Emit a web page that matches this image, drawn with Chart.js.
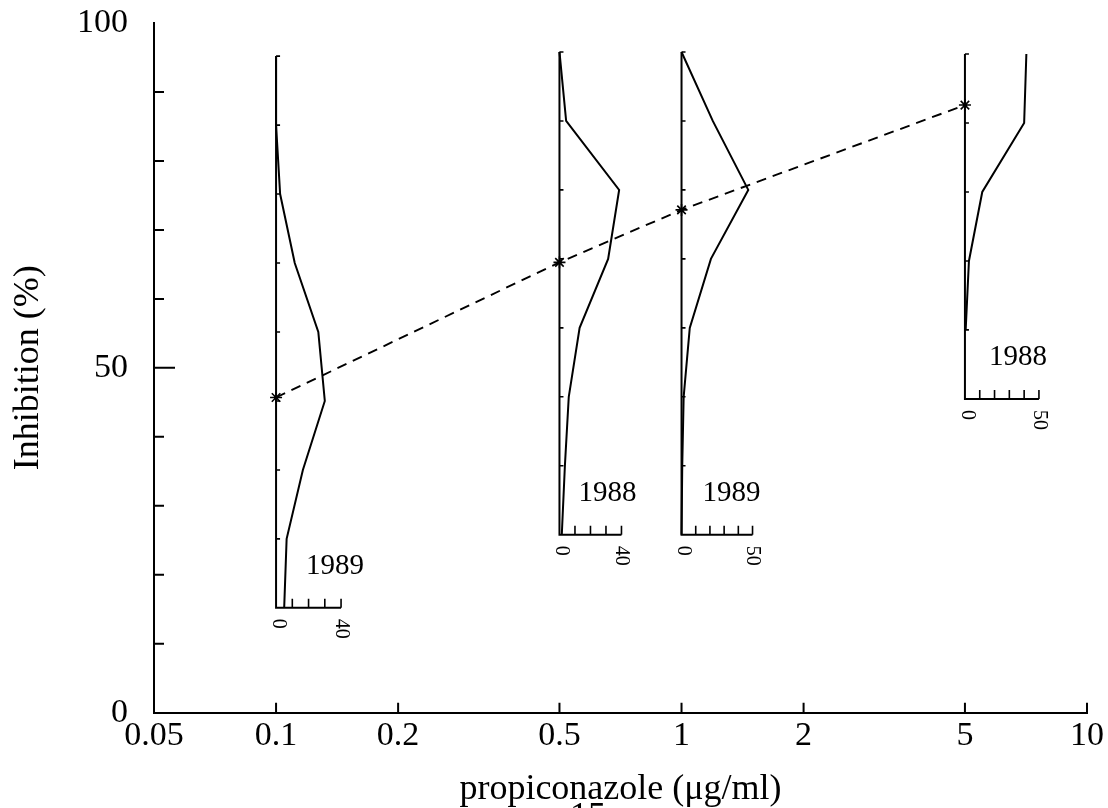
<!DOCTYPE html>
<html>
<head>
<meta charset="utf-8">
<script src="https://cdn.jsdelivr.net/npm/chart.js@4.4.1/dist/chart.umd.min.js"></script>
<style>
    html, body { margin: 0; padding: 0; background: #fff; }
</style>
</head>
<body>
<canvas id="myChart" width="1108" height="808"></canvas>
<script>
// nong do propiconazole (ug/ml) va muc uc che trung binh (%)
const doses = [0.1, 0.5, 1, 5];
const meanInhibition = [45.7, 65.3, 72.9, 88.1];
const years = ['1989', '1988', '1989', '1988'];

// phan bo tan so theo lop uc che (diem giua lop, %)
const classMids = [95, 85, 75, 65, 55, 45, 35, 25, 15];
const freqDose01 = [0, 0, 2.5, 11.5, 26, 30, 16.5, 6.5, 5];
const freqDose05 = [0, 4.3, 38.5, 31.4, 13, 6, 3.5, 1.5, null];
const freqDose1 = [0, 22, 47, 20.7, 5.8, 1.5, 0.5, 0, null];
const freqDose5 = [41.5, 40, 11.7, 2.7, 0.5, null, null, null, null];
const freqMax = [40, 40, 50, 50];
const insetBase = [15, 25, 25, 45];
const insetTop = 95;

// nhan truc
const xTicks = [0.05, 0.1, 0.2, 0.5, 1, 2, 5, 10];
const yMinorTicks = [10, 20, 30, 40, 50, 60, 70, 80, 90];

const profiles = [freqDose01, freqDose05, freqDose1, freqDose5];

// kich thuoc / vi tri cac bieu do nho (px)
const insetStyle = [
    {width: 65, shift: 0.2, labelDx: 30},
    {width: 62, shift: 0.8, labelDx: 19},
    {width: 71, shift: 0.8, labelDx: 21},
    {width: 74, shift: 0.5, labelDx: 24}
];

const serif = "'Liberation Serif', 'Times New Roman', serif";

// ve vach chia huong vao trong + cac bieu do phan bo
const drawPlugin = {
    id: 'insets',
    beforeDatasetsDraw(chart) {
        const {ctx, scales: {x, y}} = chart;
        ctx.save();
        ctx.strokeStyle = '#000';
        ctx.fillStyle = '#000';
        ctx.lineCap = 'butt';

        // vach chia truc chinh
        ctx.lineWidth = 2;
        ctx.beginPath();
        yMinorTicks.forEach(v => {
            let py = y.getPixelForValue(v);
            ctx.moveTo(x.left, py);
            ctx.lineTo(x.left + (v === 50 ? 21 : 10), py);
        });
        xTicks.slice(1).forEach(v => {
            let px = x.getPixelForValue(v);
            ctx.moveTo(px, y.bottom);
            ctx.lineTo(px, y.bottom - 10);
        });
        ctx.stroke();

        profiles.forEach((freqs, i) => {
            const st = insetStyle[i];
            const x0 = x.getPixelForValue(doses[i]);
            const fx = f => x0 + f / freqMax[i] * st.width;
            const fy = v => y.getPixelForValue(v + st.shift);
            const yBase = fy(insetBase[i]);

            // truc
            ctx.lineWidth = 2;
            ctx.beginPath();
            ctx.moveTo(x0, fy(insetTop));
            ctx.lineTo(x0, yBase);
            ctx.lineTo(fx(freqMax[i]), yBase);
            ctx.stroke();

            ctx.lineWidth = 1.6;
            ctx.beginPath();
            for (let v = insetTop; v > insetBase[i]; v -= 10) {
                ctx.moveTo(x0, fy(v));
                ctx.lineTo(x0 + 4, fy(v));
            }
            for (let f = 10; f <= freqMax[i]; f += 10) {
                ctx.moveTo(fx(f), yBase);
                ctx.lineTo(fx(f), yBase - 9);
            }
            ctx.stroke();

            // duong phan bo
            ctx.lineWidth = 2;
            ctx.lineJoin = 'miter';
            ctx.beginPath();
            let started = false;
            freqs.forEach((f, k) => {
                if (f === null) return;
                let px = fx(f), py = fy(classMids[k]);
                if (!started) { ctx.moveTo(px, py); started = true; }
                else ctx.lineTo(px, py);
            });
            ctx.stroke();

            // nam
            ctx.font = '29px ' + serif;
            ctx.textAlign = 'left';
            ctx.textBaseline = 'alphabetic';
            ctx.fillText(years[i], x0 + st.labelDx, yBase - 34);

            // nhan 0 va max (xoay 90 do)
            ctx.font = '20px ' + serif;
            [0, freqMax[i]].forEach(f => {
                ctx.save();
                ctx.translate(fx(f) + (f === 0 ? 2 : 0), yBase + 11);
                ctx.rotate(Math.PI / 2);
                ctx.textAlign = 'left';
                ctx.textBaseline = 'middle';
                ctx.fillText(String(f), 0, 0);
                ctx.restore();
            });
        });

        // so trang bi cat
        ctx.font = '36px ' + serif;
        ctx.textAlign = 'center';
        ctx.textBaseline = 'alphabetic';
        ctx.fillText('15', 588, 827);

        ctx.restore();
    }
};

Chart.defaults.font.family = serif;
Chart.defaults.color = '#000';

const data = {
    datasets: [{
        label: 'Inhibition',
        data: doses.map((d, i) => ({x: d, y: meanInhibition[i]})),
        borderColor: '#000',
        borderWidth: 1.9,
        borderDash: [10, 7],
        pointStyle: 'star',
        pointRadius: 6,
        pointBorderWidth: 1.6,
        pointBorderColor: '#000',
        pointBackgroundColor: '#000',
        fill: false,
        tension: 0
    }]
};

const config = {
    type: 'line',
    data: data,
    options: {
        responsive: false,
        animation: false,
        devicePixelRatio: 1,
        layout: {padding: {top: 23, right: 21, bottom: 0, left: 0}},
        plugins: {legend: {display: false}, tooltip: {enabled: false}},
        scales: {
            x: {
                type: 'logarithmic',
                min: 0.05,
                max: 10,
                afterBuildTicks: scale => { scale.ticks = xTicks.map(v => ({value: v})); },
                afterFit: scale => { scale.height = 95.3; },
                grid: {display: false, drawTicks: false},
                border: {display: true, color: '#000', width: 2},
                ticks: {
                    autoSkip: false, maxRotation: 0, padding: 3,
                    font: {size: 34}, color: '#000',
                    callback: v => String(v)
                },
                title: {display: true, text: 'propiconazole (μg/ml)', font: {size: 36}, color: '#000', padding: {top: 0, bottom: -3}}
            },
            y: {
                min: 0,
                max: 100,
                afterFit: scale => {
                    scale.width = 154;
                    scale.paddingTop = 0;
                    scale.paddingBottom = 0;
                },
                grid: {display: false, drawTicks: false},
                border: {display: true, color: '#000', width: 2},
                ticks: {stepSize: 50, padding: 26, font: {size: 34}, color: '#000'},
                title: {display: true, text: 'Inhibition (%)', font: {size: 36}, color: '#000', padding: {top: 7, bottom: 0}}
            }
        }
    },
    plugins: [drawPlugin]
};

let ctx = document.getElementById('myChart').getContext('2d');
new Chart(ctx, config);
</script>
</body>
</html>
